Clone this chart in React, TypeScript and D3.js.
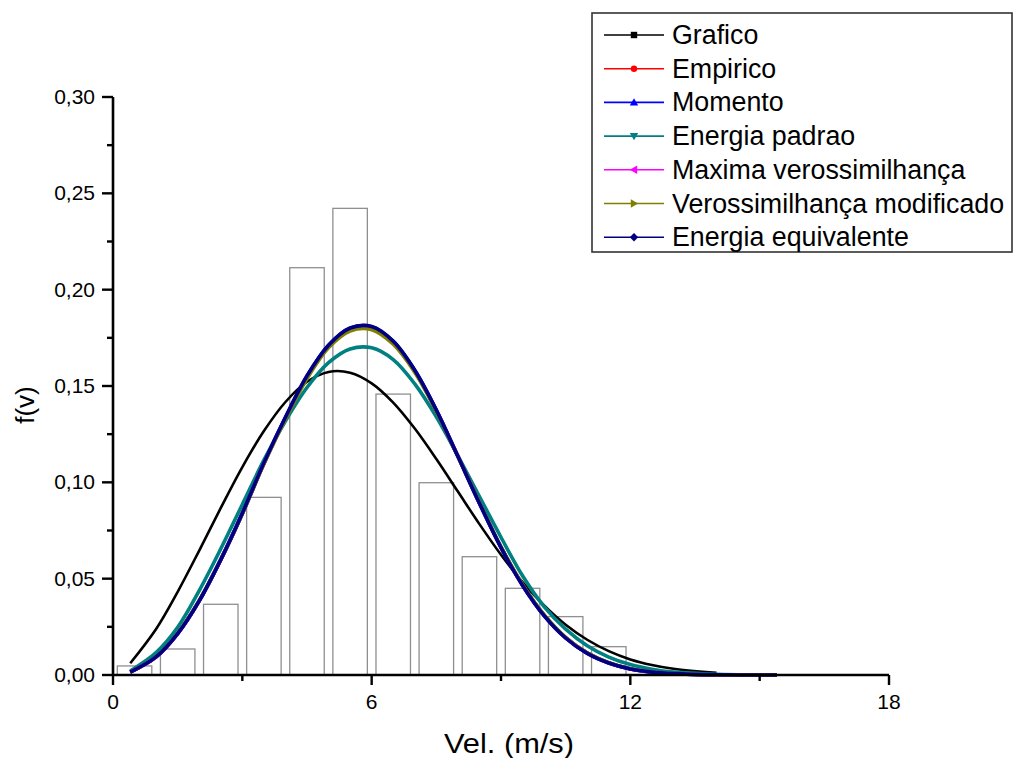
import React from "react";
import * as d3 from "d3";

// histogram (bin centre in m/s, relative frequency)
const BIN_CENTERS = [0.5, 1.5, 2.5, 3.5, 4.5, 5.5, 6.5, 7.5, 8.5, 9.5, 10.5, 11.5];
const BIN_FREQ = [0.0047, 0.0135, 0.0367, 0.0922, 0.2114, 0.2422, 0.1458, 0.0998, 0.0614, 0.045, 0.0303, 0.0147];

// velocity grid used by the fitted curves
const VEL = [0.4, 1, 1.5, 2, 2.5, 3, 3.5, 4, 4.5, 5, 5.5, 6, 6.5, 7, 7.5, 8, 8.5, 9, 9.5, 10, 10.5, 11, 11.5, 12, 12.5, 13, 14, 15, 15.4];

const GRAFICO = [0.0061, 0.0239, 0.0432, 0.0646, 0.0867, 0.1079, 0.1266, 0.1417, 0.1522, 0.1573, 0.1569, 0.1514, 0.1414, 0.1279, 0.1121, 0.0952, 0.0783, 0.0624, 0.0482, 0.0361, 0.0261, 0.0183, 0.0124, 0.0081, 0.0052, 0.0032, 0.0011];
const EMPIRICO = [0.0015, 0.0094, 0.0215, 0.0385, 0.0598, 0.0837, 0.1097, 0.1332, 0.1544, 0.1704, 0.1792, 0.18, 0.1724, 0.1576, 0.1372, 0.1135, 0.0893, 0.0664, 0.0468, 0.0311, 0.0194, 0.0114, 0.0063, 0.0032, 0.0015, 0.0007, 0.0001, 0.00001, 0];
const MOMENTO = [0.0015, 0.0094, 0.0215, 0.0385, 0.0599, 0.0839, 0.1099, 0.1336, 0.155, 0.1711, 0.18, 0.1807, 0.173, 0.158, 0.1374, 0.1135, 0.0892, 0.0662, 0.0466, 0.0309, 0.0193, 0.0113, 0.0062, 0.0032, 0.0015, 0.0007, 0.0001, 0.00001, 0];
const ENERGIA_PADRAO = [0.0021, 0.0116, 0.0247, 0.0438, 0.0655, 0.0885, 0.1115, 0.1318, 0.1492, 0.1621, 0.1692, 0.1698, 0.1637, 0.1511, 0.134, 0.1138, 0.0926, 0.0715, 0.0515, 0.0355, 0.0238, 0.0152, 0.0093, 0.0054, 0.003, 0.0015, 0.0004, 0.0001, 0];
const MAXIMA = [0.0015, 0.0094, 0.0215, 0.0385, 0.0598, 0.0838, 0.1098, 0.1334, 0.1547, 0.1707, 0.1795, 0.1803, 0.1727, 0.1578, 0.1373, 0.1135, 0.0893, 0.0663, 0.0467, 0.031, 0.0194, 0.0114, 0.0063, 0.0032, 0.0015, 0.0007, 0.0001, 0.00001, 0];
const VEROSSIM_MOD = [0.0015, 0.0095, 0.0217, 0.0387, 0.0599, 0.0836, 0.1093, 0.1327, 0.1537, 0.1698, 0.1785, 0.1792, 0.1716, 0.157, 0.1368, 0.1134, 0.0894, 0.0666, 0.047, 0.0313, 0.0196, 0.0115, 0.0064, 0.0033, 0.0016, 0.0007, 0.0001, 0.00001, 0];
const ENERGIA_EQUIV = [0.0015, 0.0094, 0.0215, 0.0385, 0.0599, 0.084, 0.1101, 0.1338, 0.1553, 0.1712, 0.1801, 0.1809, 0.1733, 0.1582, 0.1375, 0.1135, 0.0891, 0.0661, 0.0465, 0.0308, 0.0192, 0.0112, 0.0062, 0.0031, 0.0015, 0.0007, 0.0001, 0.00001, 0];

const SERIES = [
  { name: "Grafico", values: GRAFICO, color: "#000000", width: 2.6, marker: "square" },
  { name: "Empirico", values: EMPIRICO, color: "#ff0000", width: 3.4, marker: "circle" },
  { name: "Momento", values: MOMENTO, color: "#0000ff", width: 3.8, marker: "up" },
  { name: "Energia padrao", values: ENERGIA_PADRAO, color: "#008080", width: 3.6, marker: "down" },
  { name: "Maxima verossimilhança", values: MAXIMA, color: "#ff00ff", width: 3.4, marker: "left" },
  { name: "Verossimilhança modificado", values: VEROSSIM_MOD, color: "#808000", width: 3.4, marker: "right" },
  { name: "Energia equivalente", values: ENERGIA_EQUIV, color: "#000080", width: 3.6, marker: "diamond" },
];

const X_TICKS = [0, 6, 12, 18];
const X_MINOR = [3, 9, 15];
const Y_TICKS = [0, 0.05, 0.1, 0.15, 0.2, 0.25, 0.3];
const Y_MINOR = [0.025, 0.075, 0.125, 0.175, 0.225, 0.275];

const FONT = "'Liberation Sans', Arial, sans-serif";

const Marker = ({ type, x, y, color }: { type: string; x: number; y: number; color: string }) => {
  const s = 3.2;
  if (type === "square") return <rect x={x - s} y={y - s} width={2 * s} height={2 * s} fill={color} />;
  if (type === "circle") return <circle cx={x} cy={y} r={s} fill={color} />;
  const pts: Record<string, number[][]> = {
    up: [[0, -s - 1], [s + 1, s], [-s - 1, s]],
    down: [[0, s + 1], [s + 1, -s], [-s - 1, -s]],
    left: [[-s - 1, 0], [s, -s - 1], [s, s + 1]],
    right: [[s + 1, 0], [-s, -s - 1], [-s, s + 1]],
    diamond: [[0, -s - 1], [s + 1, 0], [0, s + 1], [-s - 1, 0]],
  };
  const p = pts[type].map(([dx, dy]) => `${x + dx},${y + dy}`).join(" ");
  return <polygon points={p} fill={color} />;
};

export default function App() {
  const x = d3.scaleLinear().domain([0, 18]).range([113, 889]);
  const y = d3.scaleLinear().domain([0, 0.3]).range([675, 97]);

  const line = d3
    .line<[number, number]>()
    .x((d) => x(d[0]))
    .y((d) => y(d[1]))
    .curve(d3.curveCatmullRom.alpha(0.5));

  const fmt = (v: number) => d3.format(".2f")(v).replace(".", ",");

  return (
    <svg width={1017} height={758} style={{ position: "absolute", left: 0, top: 0, background: "#fff" }} fontFamily={FONT}>
      <rect width={1017} height={758} fill="#fff" />

      {/* histogram */}
      {BIN_CENTERS.map((c, i) => (
        <rect
          key={i}
          x={x(c - 0.4)}
          y={y(BIN_FREQ[i])}
          width={x(c + 0.4) - x(c - 0.4)}
          height={y(0) - y(BIN_FREQ[i])}
          fill="none"
          stroke="#8f8f8f"
          strokeWidth={1.3}
        />
      ))}

      {/* fitted curves */}
      {SERIES.map((s) => (
        <path
          key={s.name}
          d={line(s.values.map((v, i) => [VEL[i], v] as [number, number])) || ""}
          fill="none"
          stroke={s.color}
          strokeWidth={s.width}
          strokeLinejoin="round"
        />
      ))}

      {/* axes */}
      <line x1={x(0)} x2={x(18)} y1={y(0)} y2={y(0)} stroke="#000" strokeWidth={2.6} />
      <line x1={x(0)} x2={x(0)} y1={y(0) + 1} y2={y(0.3)} stroke="#000" strokeWidth={2.6} />
      {X_TICKS.map((t) => (
        <g key={t}>
          <line x1={x(t)} x2={x(t)} y1={y(0)} y2={y(0) + 10} stroke="#000" strokeWidth={2.4} />
          <text x={x(t)} y={y(0) + 34} textAnchor="middle" fontSize={21}>
            {t}
          </text>
        </g>
      ))}
      {X_MINOR.map((t) => (
        <line key={t} x1={x(t)} x2={x(t)} y1={y(0)} y2={y(0) + 6} stroke="#000" strokeWidth={2.4} />
      ))}
      {Y_TICKS.map((t) => (
        <g key={t}>
          <line x1={x(0) - 11} x2={x(0)} y1={y(t)} y2={y(t)} stroke="#000" strokeWidth={2.4} />
          <text x={x(0) - 18} y={y(t) + 7} textAnchor="end" fontSize={21}>
            {fmt(t)}
          </text>
        </g>
      ))}
      {Y_MINOR.map((t) => (
        <line key={t} x1={x(0) - 6} x2={x(0)} y1={y(t)} y2={y(t)} stroke="#000" strokeWidth={2.4} />
      ))}

      <text
        x={509}
        y={753}
        textAnchor="middle"
        fontSize={27}
        textLength={130}
        lengthAdjust="spacingAndGlyphs"
      >
        Vel. (m/s)
      </text>
      <text transform={`translate(34,405) rotate(-90)`} textAnchor="middle" fontSize={26}>
        f(v)
      </text>

      {/* legend */}
      <rect x={592} y={13} width={420} height={239} fill="#fff" stroke="#333" strokeWidth={1.6} />
      {SERIES.map((s, i) => {
        const ly = 35 + i * 33.7;
        return (
          <g key={s.name}>
            <line x1={604} x2={664} y1={ly} y2={ly} stroke={s.color} strokeWidth={1.6} />
            <Marker type={s.marker} x={634} y={ly} color={s.color} />
            <text x={672} y={ly + 9} fontSize={26.8}>
              {s.name}
            </text>
          </g>
        );
      })}
    </svg>
  );
}
